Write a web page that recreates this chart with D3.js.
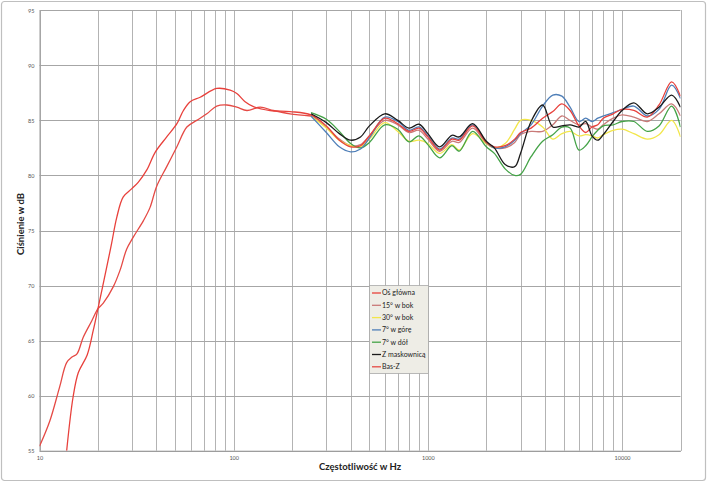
<!DOCTYPE html>
<html><head><meta charset="utf-8">
<script src="https://cdn.jsdelivr.net/npm/d3@7"></script>
<style>
html,body{margin:0;padding:0;background:#fff;}
svg{display:block;}
</style></head>
<body>
<script>
// ---------- DATA ----------
const seriesNames = ["Oś główna","15° w bok","30° w bok","7° w górę","7° w dół","Z maskownicą","Bas-Z"];
const yTicks = [55,60,65,70,75,80,85,90,95];
const xTickLabels = [10,100,1000,10000];

// low-frequency part of the main-axis curve (Hz, dB)
const mainLowFreq = [13.8,14.9,15.85,17.6,18.9,20,22.2,23.5,25,27,29.9,32.3,35.7,39.4,45.2,51,55.1,59.7,67.2,81.8,95.9,103.8,114.5,126.5,154,195];
const mainLowDb   = [55.0,59.9,62.1,63.7,65.9,67.9,71.7,73.8,76.2,78.05,78.8,79.4,80.5,82.1,83.5,84.7,85.9,86.7,87.1,87.9,87.75,87.45,86.7,86.25,85.9,85.8];

// Bas-Z curve
const basFreq = [10,11.3,12.7,13.8,14.7,15.6,16.8,18.6,20,21.3,24,26,28.1,30.4,34.3,37.1,40.1,45.2,51,57.4,64.5,72.7,81.8,92.2,103.8,117,137,160,195,250];
const basDb   = [55.4,57.7,60.8,63.0,63.5,63.8,65.3,66.8,67.9,68.4,69.9,71.4,73.3,74.4,75.9,77.1,79.0,80.8,82.6,84.4,85.0,85.6,86.3,86.4,86.2,85.9,86.2,85.9,85.6,85.4];

// mid/high frequency grid shared by six measurements
const midFreq = [250,300,350,400,450,500,600,700,800,900,1000,1150,1330,1450,1700,2000,2200,2500,2800,3000,3400,3900,4400,4900,5400,6000,6500,7000,7500,8000,9000,10000,11500,13500,15500,18000,20000];
const osGlowna = [85.5,84.5,83.2,82.6,82.7,83.6,85.2,84.7,84.0,84.3,83.5,82.3,83.3,83.2,84.5,83.0,82.6,82.7,83.3,83.9,84.3,85.2,85.8,86.5,85.9,84.5,83.9,84.4,84.6,85.2,85.6,86.0,85.9,85.3,86.4,88.5,87.2];
const bok15    = [85.5,84.4,83.3,82.7,82.8,83.6,85.0,84.6,83.9,84.1,83.3,82.2,83.1,83.0,84.3,82.9,82.5,82.5,83.0,83.7,84.0,84.0,84.6,85.4,85.0,84.6,84.7,84.4,84.2,84.6,85.2,85.5,85.3,84.9,85.6,86.5,85.4];
const bok30    = [85.4,84.3,83.2,82.7,82.6,83.3,84.8,84.0,83.1,83.2,82.9,82.0,82.8,82.3,83.8,82.9,82.5,82.9,84.2,85.0,85.0,84.4,83.3,83.8,84.0,83.6,83.7,83.6,83.4,83.7,84.1,84.2,83.8,83.3,83.7,85.0,83.5];
const gora7    = [85.4,83.9,82.6,82.15,82.4,83.4,85.3,84.9,84.1,84.4,83.6,82.4,83.4,83.3,84.6,83.0,82.5,82.6,83.2,83.8,84.6,86.3,87.3,87.2,86.2,84.9,85.2,84.9,85.2,85.4,85.7,86.0,86.3,85.4,86.0,88.2,87.0];
const dol7     = [85.7,85.1,84.0,82.9,82.5,83.0,84.6,84.2,83.05,83.6,82.8,81.6,82.7,82.2,84.0,82.6,82.0,80.6,80.0,80.1,81.7,83.1,83.7,84.4,84.3,82.3,82.7,83.5,84.1,84.5,84.6,84.9,84.9,84.0,84.5,86.3,84.4];
const maskown  = [85.6,84.8,83.8,83.2,83.5,84.5,85.6,85.0,84.3,84.65,83.8,82.6,83.65,83.5,84.7,83.1,82.5,81.0,80.8,82.0,84.9,86.4,84.4,84.5,84.6,84.4,84.9,83.6,83.2,83.7,84.9,85.9,86.6,85.6,86.2,87.3,86.2];

const colors = ["#e8413c","#c97a78","#f2e64a","#4f7fb8","#44a347","#1a1a1a","#e54a45"];

// ---------- BUILD ----------
const W = 708, H = 482;
const svg = d3.select("body").append("svg").attr("width", W).attr("height", H);

// outer chart border
svg.append("rect").attr("x",1.5).attr("y",1.5).attr("width",W-4).attr("height",H-3)
  .attr("rx",3).attr("fill","#fff").attr("stroke","#bfbfbf").attr("stroke-width",1.2);

const x = d3.scaleLog().domain([10,20000]).range([39.5,680.5]);
const y = d3.scaleLinear().domain([55,95]).range([450.7,10.3]);

// gridlines
const vGrid = [];
[10,100,1000,10000].forEach(d => { for (let k=1;k<10;k++){ const v=d*k; if (v<=20000) vGrid.push(v);} });
vGrid.push(20000);

const g = svg.append("g");
g.selectAll("line.v").data(vGrid).enter().append("line")
  .attr("x1",d=>Math.round(x(d))+0.5).attr("x2",d=>Math.round(x(d))+0.5)
  .attr("y1",y(95)).attr("y2",y(55))
  .attr("stroke","#b3b3b3").attr("stroke-width",1);
g.selectAll("line.h").data(yTicks).enter().append("line")
  .attr("x1",x(10)).attr("x2",x(20000))
  .attr("y1",d=>Math.round(y(d))+0.5).attr("y2",d=>Math.round(y(d))+0.5)
  .attr("stroke","#a6a6a6").attr("stroke-width",1);

// axes (labels only)
const yAxis = d3.axisLeft(y).tickValues(yTicks).tickSize(0).tickPadding(5);
svg.append("g").attr("transform",`translate(${x(10)},0)`).call(yAxis)
  .call(s=>s.select(".domain").attr("stroke","#9a9a9a"))
  .call(s=>s.selectAll("text").attr("font-family","Lato, 'Open Sans', sans-serif").attr("font-size",5.5).attr("fill","#555"));
const xAxis = d3.axisBottom(x).tickValues(xTickLabels).tickFormat(d3.format("d")).tickSize(0).tickPadding(5);
svg.append("g").attr("transform",`translate(0,${y(55)})`).call(xAxis)
  .call(s=>s.select(".domain").attr("stroke","#9a9a9a"))
  .call(s=>s.selectAll("text").attr("font-family","Lato, 'Open Sans', sans-serif").attr("font-size",5.5).attr("fill","#555"));

// axis titles
svg.append("text").attr("transform","translate(24,224) rotate(-90)")
  .attr("text-anchor","middle").attr("font-family","Lato, 'Open Sans', sans-serif")
  .attr("font-weight","bold").attr("font-size",9.5).attr("fill","#222").text("Ciśnienie w dB");
svg.append("text").attr("x",360).attr("y",470)
  .attr("text-anchor","middle").attr("font-family","Lato, 'Open Sans', sans-serif")
  .attr("font-weight","bold").attr("font-size",9.5).attr("fill","#222").text("Częstotliwość w Hz");

// clip
svg.append("clipPath").attr("id","plot").append("rect")
  .attr("x",x(10)).attr("y",y(95)).attr("width",x(20000)-x(10)).attr("height",y(55)-y(95));

const mk = (f, v) => f.map((d,i)=>({f:d, v:v[i]}));
const mainAll = mk(mainLowFreq, mainLowDb).concat(mk(midFreq, osGlowna));
const seriesData = [mainAll, mk(midFreq,bok15), mk(midFreq,bok30), mk(midFreq,gora7), mk(midFreq,dol7), mk(midFreq,maskown), mk(basFreq,basDb)];

const line = d3.line().x(d=>x(d.f)).y(d=>y(d.v)).curve(d3.curveCatmullRom.alpha(0.5));
const drawOrder = [6,1,2,4,3,0,5];
const lines = svg.append("g").attr("clip-path","url(#plot)");
drawOrder.forEach(i => {
  lines.append("path").datum(seriesData[i]).attr("d",line)
    .attr("fill","none").attr("stroke",colors[i]).attr("stroke-width",1.3)
    .attr("stroke-linejoin","round");
});

// legend
const lg = svg.append("g");
lg.append("rect").attr("x",369.5).attr("y",285.5).attr("width",59).attr("height",88)
  .attr("fill","#eeede6").attr("stroke","#a8a8a8").attr("stroke-width",0.8);
seriesNames.forEach((n,i)=>{
  const yy = 293 + i*12.3;
  lg.append("line").attr("x1",372).attr("x2",381).attr("y1",yy).attr("y2",yy)
    .attr("stroke",colors[i]).attr("stroke-width",1.3);
  lg.append("text").attr("x",382).attr("y",yy+2.3).attr("font-family","Lato, 'Open Sans', sans-serif")
    .attr("font-size",7).attr("fill","#222").text(n);
});
</script>
</body></html>
